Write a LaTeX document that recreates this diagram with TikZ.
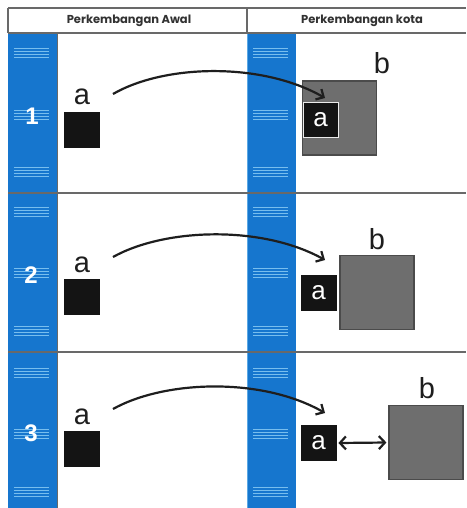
\documentclass[tikz,border=0pt]{standalone}
\usepackage{fontspec}
\setmainfont{Liberation Sans}
\newfontfamily\hdrfont{Poppins}
\usetikzlibrary{arrows.meta}
\definecolor{stripblue}{RGB}{22,118,206}
\definecolor{stripline}{RGB}{120,190,238}
\definecolor{framegray}{RGB}{105,105,105}
\definecolor{boxgray}{RGB}{110,110,110}
\definecolor{boxedge}{RGB}{75,75,75}
\definecolor{boxblack}{RGB}{20,20,20}
\definecolor{hdrtext}{RGB}{50,50,50}
\definecolor{arrowcol}{RGB}{30,30,30}
\begin{document}
\begin{tikzpicture}[x=1pt,y=-1pt,
  frame/.style={draw=framegray,line width=1.3pt},
  hdr/.style={font=\hdrfont\bfseries\fontsize{11.5}{13}\selectfont,text=hdrtext,inner sep=0},
  lbl/.style={font=\fontsize{29}{30}\selectfont,text=arrowcol,anchor=base,inner sep=0},
  num/.style={font=\bfseries\fontsize{24}{26}\selectfont,text=white,inner sep=0},
  blk/.style={fill=boxblack,draw=boxblack,line width=0.8pt,minimum width=35pt,minimum height=35pt,inner sep=0},
  inblk/.style={blk,text=white,font=\fontsize{26}{27}\selectfont},
  gbox/.style={fill=boxgray,draw=boxedge,line width=1.2pt,minimum width=74pt,minimum height=74pt,inner sep=0},
  flow/.style={draw=arrowcol,line width=2.2pt,-{Straight Barb[length=6pt,width=12pt]}},
  twoway/.style={draw=arrowcol,line width=2.2pt,{Straight Barb[length=6pt,width=13pt]}-{Straight Barb[length=6pt,width=13pt]}},
  sline/.style={draw=stripline,line width=1pt}]
\useasboundingbox (0,0) rectangle (466,508);
\fill[white] (0,0) rectangle (466,508);
% blue strips
\fill[stripblue] (8,33) rectangle (57,508);
\fill[stripblue] (247,33) rectangle (296,508);
\draw[draw=stripline!70!stripblue,line width=0.8pt] (247.4,33) -- (247.4,508);
\foreach \sx in {8,247}{
  \foreach \gy in {53,115,172,212,273,331,373,434,492}{
    \foreach \d in {-4.5,-1.5,1.5,4.5}{
      \draw[sline] (\sx+6,\gy+\d) -- (\sx+41,\gy+\d);
    }
  }
}
% frame lines
\draw[frame] (8,8) -- (466,8);
\draw[frame] (8,33) -- (466,33);
\draw[frame] (8,8) -- (8,33);
\draw[frame] (247,8) -- (247,33);
\draw[frame] (8,193) -- (466,193);
\draw[frame] (8,352) -- (466,352);
\draw[draw=framegray,line width=0.8pt] (57,33) -- (57,508);
% headers
\node[hdr] (h1) at (129,21) {Perkembangan Awal};
\node[hdr] (h2) at (362,21) {Perkembangan kota};
% row numbers
\node[num] (n1) at (32,116) {1};
\node[num] (n2) at (31,275) {2};
\node[num] (n3) at (31,433) {3};
% row 1
\node[blk] (a1) at (81.5,129.5) {};
\node[lbl] (a1l) at (82,105) {a};
\node[gbox] (b1) at (339.5,118) {};
\node[lbl] (b1l) at (382,74) {b};
\node[inblk,draw=white!85!gray] (a1r) at (320.5,120) {a};
\coordinate (s1) at (113,94);
\coordinate (e1) at (325,98);
\draw[flow] (s1) .. controls (165,64) and (262,62) .. (e1);
% row 2
\node[blk] (a2) at (81.5,296.5) {};
\node[lbl] (a2l) at (82,272) {a};
\node[inblk] (a2r) at (318.5,293) {a};
\node[gbox] (b2) at (377,292.5) {};
\node[lbl] (b2l) at (377,249) {b};
\coordinate (s2) at (113,257);
\coordinate (e2) at (325,260);
\draw[flow] (s2) .. controls (165,228) and (262,225) .. (e2);
% row 3
\node[blk] (a3) at (81.5,448.5) {};
\node[lbl] (a3l) at (82,424) {a};
\node[inblk] (a3r) at (318.5,443) {a};
\node[gbox] (b3) at (426,442.5) {};
\node[lbl] (b3l) at (427,398) {b};
\coordinate (s3) at (113,409);
\coordinate (e3) at (325,413);
\draw[flow] (s3) .. controls (165,380) and (262,377) .. (e3);
\draw[twoway] ([xshift=2pt]a3r.east) -- ([xshift=-2pt]b3.west);
\end{tikzpicture}
\end{document}
